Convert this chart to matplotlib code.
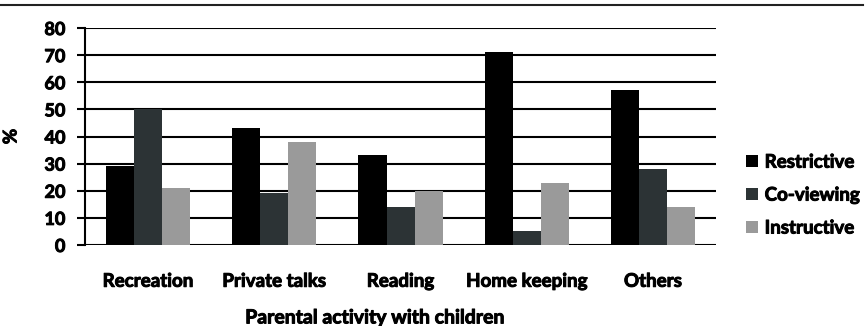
import numpy as np
import matplotlib
matplotlib.use('Agg')
import matplotlib.pyplot as plt
import matplotlib.patheffects as pe
from matplotlib.lines import Line2D

plt.rcParams['font.family'] = ['Lato', 'DejaVu Sans']
plt.rcParams['font.weight'] = 'bold'
plt.rcParams['axes.labelweight'] = 'bold'

# survey results, percent of parents per activity
activities = ['Recreation', 'Private talks', 'Reading', 'Home keeping', 'Others']
restrictive = [29, 43, 33, 71, 57]
coviewing = [50, 19, 14, 5, 28]
instructive = [21, 38, 20, 23, 14]
series_names = ['Restrictive', 'Co-viewing', 'Instructive']
yticks = [0, 10, 20, 30, 40, 50, 60, 70, 80]

colors = ['#000000', '#2c3335', '#9a9a9a']
thick = [pe.withStroke(linewidth=0.7, foreground='black')]

fig = plt.figure(figsize=(8.66, 3.26), dpi=100)
ax = fig.add_axes([0.098, 0.2485, 0.729, 0.6655])

x = np.arange(len(activities))
w = 0.222
for i, (vals, name) in enumerate(zip([restrictive, coviewing, instructive], series_names)):
    ax.bar(x + (i - 1) * w, vals, width=w, color=colors[i], label=name, zorder=3)

ax.set_xlim(-0.5, len(activities) - 0.5)
ax.set_ylim(0, 80)
ax.set_yticks(yticks)
ax.yaxis.grid(True, color='black', linewidth=1.5, zorder=0)
ax.set_axisbelow(True)

for s in ['top', 'right', 'bottom']:
    ax.spines[s].set_visible(False)
ax.spines['left'].set_linewidth(1.5)

ax.set_xticks(x)
ax.set_xticklabels(activities, fontsize=13.5)
ax.tick_params(axis='x', length=0, pad=20)
ax.tick_params(axis='y', length=6, width=1.5, labelsize=13, pad=8)

xl = ax.set_xlabel('Parental activity with children', fontsize=14, fontweight='bold')
ax.xaxis.set_label_coords(0.461, -0.297)
yl = ax.set_ylabel('%', fontsize=13.5, fontweight='bold', labelpad=18)

leg = ax.legend(loc='center left', bbox_to_anchor=(1.048, 0.23), frameon=False,
                borderaxespad=0, borderpad=0,
                handlelength=0.62, handleheight=0.62, handletextpad=0.35,
                labelspacing=0.85, prop={'size': 13.5, 'weight': 'bold'})

for t in ax.get_xticklabels() + ax.get_yticklabels() + leg.get_texts() + [xl, yl]:
    t.set_path_effects(thick)

# rule across the top of the figure
fig.add_artist(Line2D([0, 0.997], [0.985, 0.985], color='#222222', linewidth=1.5,
                      transform=fig.transFigure))

fig.savefig('out.png', dpi=100)
